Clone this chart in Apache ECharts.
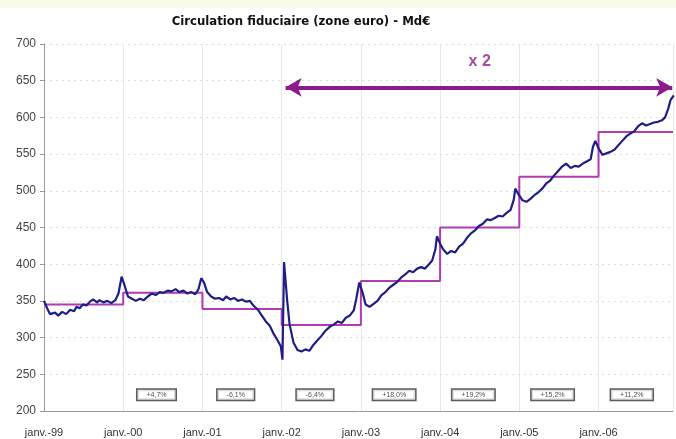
<!DOCTYPE html>
<html>
<head>
<meta charset="utf-8">
<script src="https://cdn.jsdelivr.net/npm/echarts@6/dist/echarts.min.js"></script>
<style>html,body{margin:0;padding:0;background:#fff;}#c{width:676px;height:439px;}</style>
</head>
<body>
<div id="c"></div>
<script>
// Dates in decimal years, values in Md€
const dates = [1999.00,1999.04,1999.075,1999.14,1999.18,1999.23,1999.28,1999.33,1999.38,1999.41,1999.45,1999.49,1999.54,1999.58,1999.62,1999.67,1999.70,1999.75,1999.80,1999.85,1999.90,1999.94,1999.98,
2000.02,2000.06,2000.11,2000.16,2000.21,2000.26,2000.31,2000.36,2000.41,2000.46,2000.51,2000.56,2000.61,2000.66,2000.71,2000.76,2000.81,2000.86,2000.91,2000.95,2000.985,
2001.02,2001.06,2001.11,2001.16,2001.21,2001.26,2001.30,2001.35,2001.40,2001.45,2001.50,2001.55,2001.60,2001.64,2001.70,2001.75,2001.80,2001.85,2001.90,2001.95,2001.99,
2002.01,2002.03,2002.07,2002.10,2002.15,2002.20,2002.25,2002.30,2002.35,2002.40,2002.45,2002.50,2002.55,2002.61,2002.66,2002.71,2002.76,2002.81,2002.86,2002.91,2002.94,2002.98,
2003.02,2003.06,2003.11,2003.16,2003.21,2003.26,2003.31,2003.36,2003.41,2003.46,2003.51,2003.56,2003.61,2003.66,2003.71,2003.76,2003.81,2003.86,2003.90,2003.94,2003.96,
2004.00,2004.04,2004.09,2004.14,2004.19,2004.24,2004.29,2004.34,2004.39,2004.44,2004.49,2004.54,2004.59,2004.64,2004.69,2004.74,2004.79,2004.84,2004.89,2004.93,2004.95,2004.99,
2005.04,2005.09,2005.14,2005.19,2005.24,2005.29,2005.34,2005.39,2005.44,2005.49,2005.54,2005.59,2005.65,2005.70,2005.75,2005.80,2005.85,2005.90,2005.93,2005.96,
2006.00,2006.05,2006.10,2006.15,2006.20,2006.25,2006.30,2006.35,2006.40,2006.45,2006.50,2006.55,2006.60,2006.65,2006.70,2006.75,2006.80,2006.84,2006.88,2006.91,2006.95];
const values = [350,340,332,334,330,335,332,338,336,342,340,345,344,349,352,348,351,348,350,347,351,360,383,
370,356,353,350,353,351,356,360,358,362,361,364,363,366,362,364,360,362,359,366,381,
375,362,356,353,354,351,356,352,354,350,352,349,350,344,338,330,322,316,305,296,288,
270,403,350,318,293,283,281,284,282,290,296,302,309,315,318,322,320,327,330,337,352,375,
362,345,342,346,350,358,362,368,372,376,382,386,391,389,394,396,394,400,405,420,438,
428,420,414,418,416,424,428,436,442,446,452,455,461,460,463,466,465,470,474,488,503,495,
487,485,489,494,498,503,510,514,521,527,533,537,531,534,533,537,540,543,560,568,
558,549,551,553,556,562,568,574,578,581,588,592,589,591,593,594,596,600,612,624,630];

// Annual averages (step line)
const years = [1999,2000,2001,2002,2003,2004,2005,2006];
const annualAvg = [345,361,339,317,377,450,519,580];
// Year-on-year growth labels
const growthYears = [2000,2001,2002,2003,2004,2005,2006];
const growthLabels = ['+4,7%','-6,1%','-6,4%','+18,0%','+19,2%','+15,2%','+11,2%'];
const growthLevel = 222;
// Doubling arrow
const arrowFrom = 2002.05, arrowTo = 2006.93, arrowLevel = 641;
const arrowText = 'x 2', arrowTextPos = [2004.5, 676];

const xMin = 1999, xMax = 2006.94;

const lineData = dates.map((d, i) => [d, values[i]]);
const stepData = [];
years.forEach((y, i) => {
  stepData.push([y, annualAvg[i]]);
  stepData.push([Math.min(y + 1, xMax), annualAvg[i]]);
});
const boxData = growthYears.map((y, i) => ({value: [y + 0.42, growthLevel], label: {formatter: growthLabels[i]}}));

const chart = echarts.init(document.getElementById('c'), null, {renderer: 'canvas'});
chart.setOption({
  animation: false,
  backgroundColor: '#ffffff',
  graphic: [{type: 'rect', left: 0, top: 0, shape: {width: 676, height: 8}, style: {fill: '#fafae8'}, z: -1}],
  title: {
    text: 'Circulation fiduciaire (zone euro) - Md€',
    left: 296, top: 10, textAlign: 'center',
    textStyle: {fontFamily: '"Liberation Sans Narrow","DejaVu Sans Condensed","Liberation Sans",Arial,sans-serif', fontWeight: 'bold', fontSize: 13, color: '#111'}
  },
  grid: {left: 44, right: 0, top: 44, bottom: 28, containLabel: false},
  xAxis: {
    type: 'value', min: xMin, max: xMax, interval: 1,
    axisLine: {show: true, lineStyle: {color: '#999', width: 1}},
    axisTick: {show: false},
    axisLabel: {
      margin: 16, color: '#333', fontSize: 11,
      fontFamily: '"Liberation Sans Narrow","Liberation Sans",Arial,sans-serif',
      formatter: v => Math.abs(v - Math.round(v)) < 1e-6 ? 'janv.-' + String(Math.round(v)).slice(2) : ''
    },
    splitLine: {show: true, lineStyle: {color: '#e8e8e8', width: 1}}
  },
  yAxis: {
    type: 'value', min: 200, max: 700, interval: 50,
    axisLine: {show: true, lineStyle: {color: '#999', width: 1}},
    axisTick: {show: true, length: 4, lineStyle: {color: '#999'}},
    axisLabel: {margin: 8, color: '#444', fontSize: 12, fontFamily: '"Liberation Sans",Arial,sans-serif'},
    splitLine: {show: true, lineStyle: {color: '#dcdcdc', type: [2, 4], width: 1}}
  },
  series: [
    {
      type: 'line', data: stepData, showSymbol: false, z: 2,
      lineStyle: {color: '#b23ab2', width: 2}
    },
    {
      type: 'line', data: lineData, showSymbol: false, z: 3,
      lineStyle: {color: '#1e1e86', width: 2.2}
    },
    {
      type: 'scatter', data: boxData, symbolSize: 0, z: 4,
      label: {
        show: true, position: 'inside', fontSize: 7, color: '#222',
        fontFamily: '"Liberation Sans",Arial,sans-serif',
        backgroundColor: '#fff', borderColor: '#333', borderWidth: 1.5,
        padding: [2, 9, 1, 9]
      }
    },
    {
      type: 'scatter', data: [arrowTextPos], symbolSize: 0, z: 5,
      label: {show: true, position: 'inside', formatter: arrowText, fontSize: 16, fontWeight: 'bold', color: '#8e1b8c', fontFamily: '"Liberation Sans",Arial,sans-serif'},
      markLine: {
        silent: true, symbol: ['arrow', 'arrow'], symbolSize: [14, 16],
        label: {show: false},
        lineStyle: {color: '#8e1b8c', width: 4, type: 'solid'},
        data: [[{coord: [arrowFrom, arrowLevel]}, {coord: [arrowTo, arrowLevel]}]]
      }
    }
  ]
});
</script>
</body>
</html>
